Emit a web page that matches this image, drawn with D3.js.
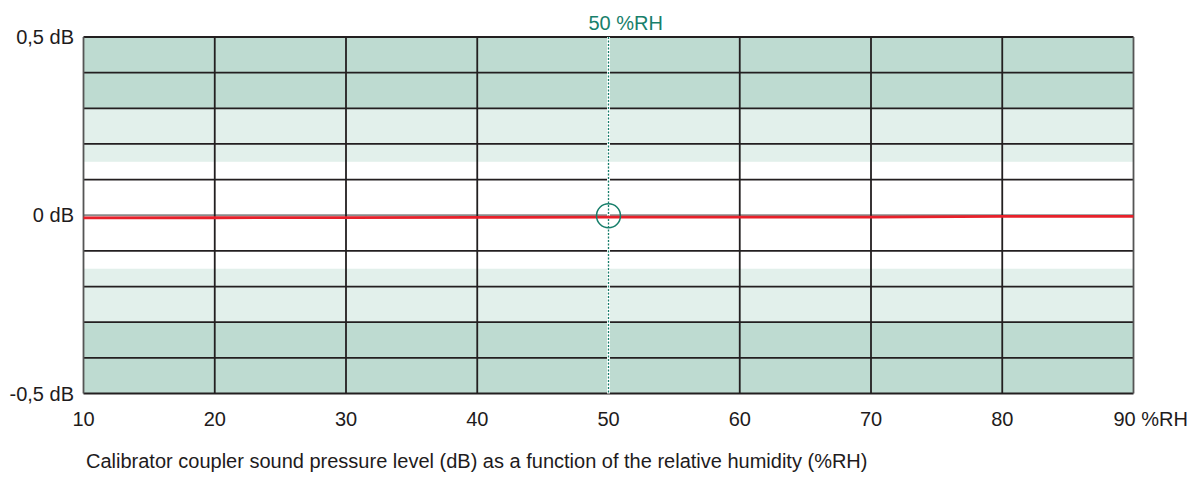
<!DOCTYPE html>
<html>
<head>
<meta charset="utf-8">
<script src="https://cdn.jsdelivr.net/npm/d3@7"></script>
<style>
  html, body { margin: 0; padding: 0; background: #fff; }
  svg { display: block; font-family: "Liberation Sans", Arial, Helvetica, sans-serif; }
</style>
</head>
<body>
<svg id="chart" width="1195" height="477"></svg>
<script>
// ---- data ----
const humidity = [10, 20, 30, 40, 50, 60, 70, 80, 90];          // %RH
const level    = [-0.0075, -0.007, -0.0065, -0.006, -0.005, -0.005, -0.005, -0.003, -0.003]; // dB
const xTicks = [10, 20, 30, 40, 50, 60, 70, 80, 90];
const xTickLabels = ["10", "20", "30", "40", "50", "60", "70", "80", "90 %RH"];
const yGrid = [-0.5, -0.4, -0.3, -0.2, -0.1, 0, 0.1, 0.2, 0.3, 0.4, 0.5];
const yTicks = [0.5, 0, -0.5];
const yTickLabels = ["0,5 dB", "0 dB", "-0,5 dB"];
const bandsDark  = [[0.3, 0.5], [-0.5, -0.3]];
const bandsLight = [[0.15, 0.3], [-0.3, -0.15]];
const referenceRH = 50;
const referenceLabel = "50 %RH";
const caption = "Calibrator coupler sound pressure level (dB) as a function of the relative humidity (%RH)";

// ---- layout ----
const svg = d3.select("#chart");
const x = d3.scaleLinear().domain([10, 90]).range([83.5, 1133.5]);
const y = d3.scaleLinear().domain([-0.5, 0.5]).range([393.5, 37]);
const ink = "#1e1b1c";
const teal = "#187f6b";
const fs = 20;

// bands
svg.append("g").selectAll("rect").data(bandsDark).join("rect")
  .attr("x", x(10)).attr("width", x(90) - x(10))
  .attr("y", d => y(d[1])).attr("height", d => y(d[0]) - y(d[1]))
  .attr("fill", "#bedbd1");
svg.append("g").selectAll("rect").data(bandsLight).join("rect")
  .attr("x", x(10)).attr("width", x(90) - x(10))
  .attr("y", d => y(d[1])).attr("height", d => y(d[0]) - y(d[1]))
  .attr("fill", "#e2f0eb");

// grid
svg.append("g").selectAll("line").data(yGrid).join("line")
  .attr("x1", x(10)).attr("x2", x(90))
  .attr("y1", d => y(d)).attr("y2", d => y(d))
  .attr("stroke", d => d === 0 ? "#8a8a8a" : "#231f20")
  .attr("stroke-width", 1.8);
svg.append("g").selectAll("line").data(xTicks).join("line")
  .attr("x1", d => x(d)).attr("x2", d => x(d))
  .attr("y1", y(0.5)).attr("y2", y(-0.5))
  .attr("stroke", d => (d === 10 || d === 90) ? "#555" : "#231f20")
  .attr("stroke-width", 1.8);

// reference line at 50 %RH
svg.append("line")
  .attr("x1", x(referenceRH)).attr("x2", x(referenceRH))
  .attr("y1", y(0.5)).attr("y2", y(-0.5))
  .attr("stroke", "#fff").attr("stroke-width", 3);
svg.append("line")
  .attr("x1", x(referenceRH)).attr("x2", x(referenceRH))
  .attr("y1", y(0.5)).attr("y2", y(-0.5))
  .attr("stroke", teal).attr("stroke-width", 1.3)
  .attr("stroke-dasharray", "2,1.5");

// data line
const line = d3.line().x((d, i) => x(humidity[i])).y(d => y(d));
svg.append("path").datum(level)
  .attr("d", line)
  .attr("fill", "none")
  .attr("stroke", "#e8202a")
  .attr("stroke-width", 2.8);

// reference circle
svg.append("circle")
  .attr("cx", x(referenceRH)).attr("cy", y(0) + 0.5).attr("r", 12)
  .attr("fill", "none").attr("stroke", teal).attr("stroke-width", 1.5);

// reference label
svg.append("text")
  .attr("x", x(referenceRH) - 20).attr("y", 30)
  .attr("fill", teal).attr("font-size", fs)
  .text(referenceLabel);

// x tick labels
svg.append("g").selectAll("text").data(xTicks).join("text")
  .attr("x", (d, i) => i === xTicks.length - 1 ? x(d) - 20 : x(d))
  .attr("y", 426)
  .attr("text-anchor", (d, i) => i === xTicks.length - 1 ? "start" : "middle")
  .attr("fill", ink).attr("font-size", fs)
  .text((d, i) => xTickLabels[i]);

// y tick labels
svg.append("g").selectAll("text").data(yTicks).join("text")
  .attr("x", 74)
  .attr("y", d => y(d) + 7)
  .attr("text-anchor", "end")
  .attr("fill", ink).attr("font-size", fs)
  .text((d, i) => yTickLabels[i]);

// caption
svg.append("text")
  .attr("x", 86).attr("y", 468)
  .attr("fill", ink).attr("font-size", fs)
  .text(caption);
</script>
</body>
</html>
